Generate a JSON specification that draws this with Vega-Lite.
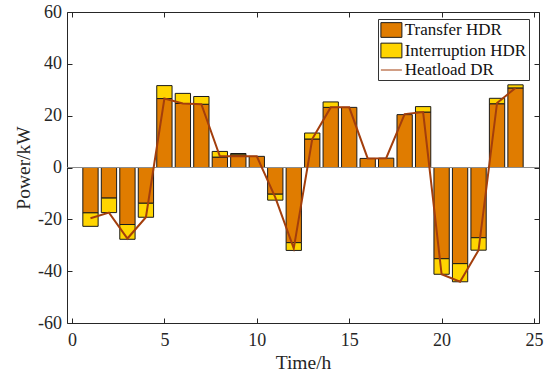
{
  "$schema": "https://vega.github.io/schema/vega-lite/v6.json",
  "autosize": "none",
  "width": 472,
  "height": 311,
  "padding": {"left": 67, "top": 12, "right": 15, "bottom": 51},
  "background": "white",
  "data": {"values": [
    {"hour": 1, "type": "Transfer HDR", "value": -17.5}, {"hour": 1, "type": "Interruption HDR", "value": -5.2}, {"hour": 1, "type": "Heatload DR", "value": -19.6},
    {"hour": 2, "type": "Transfer HDR", "value": -11.8}, {"hour": 2, "type": "Interruption HDR", "value": -5.6}, {"hour": 2, "type": "Heatload DR", "value": -17.4},
    {"hour": 3, "type": "Transfer HDR", "value": -22.0}, {"hour": 3, "type": "Interruption HDR", "value": -5.7}, {"hour": 3, "type": "Heatload DR", "value": -27.4},
    {"hour": 4, "type": "Transfer HDR", "value": -13.8}, {"hour": 4, "type": "Interruption HDR", "value": -5.4}, {"hour": 4, "type": "Heatload DR", "value": -19.2},
    {"hour": 5, "type": "Transfer HDR", "value": 26.6}, {"hour": 5, "type": "Interruption HDR", "value": 5.0}, {"hour": 5, "type": "Heatload DR", "value": 26.6},
    {"hour": 6, "type": "Transfer HDR", "value": 24.7}, {"hour": 6, "type": "Interruption HDR", "value": 3.9}, {"hour": 6, "type": "Heatload DR", "value": 24.7},
    {"hour": 7, "type": "Transfer HDR", "value": 24.4}, {"hour": 7, "type": "Interruption HDR", "value": 3.0}, {"hour": 7, "type": "Heatload DR", "value": 24.4},
    {"hour": 8, "type": "Transfer HDR", "value": 4.0}, {"hour": 8, "type": "Interruption HDR", "value": 2.2}, {"hour": 8, "type": "Heatload DR", "value": 4.3},
    {"hour": 9, "type": "Transfer HDR", "value": 4.9}, {"hour": 9, "type": "Interruption HDR", "value": 0.5}, {"hour": 9, "type": "Heatload DR", "value": 4.3},
    {"hour": 10, "type": "Transfer HDR", "value": 4.3}, {"hour": 10, "type": "Heatload DR", "value": 4.3},
    {"hour": 11, "type": "Transfer HDR", "value": -10.3}, {"hour": 11, "type": "Interruption HDR", "value": -2.3}, {"hour": 11, "type": "Heatload DR", "value": -11.5},
    {"hour": 12, "type": "Transfer HDR", "value": -29.0}, {"hour": 12, "type": "Interruption HDR", "value": -3.0}, {"hour": 12, "type": "Heatload DR", "value": -31.2},
    {"hour": 13, "type": "Transfer HDR", "value": 11.0}, {"hour": 13, "type": "Interruption HDR", "value": 2.3}, {"hour": 13, "type": "Heatload DR", "value": 11.0},
    {"hour": 14, "type": "Transfer HDR", "value": 23.2}, {"hour": 14, "type": "Interruption HDR", "value": 2.1}, {"hour": 14, "type": "Heatload DR", "value": 23.2},
    {"hour": 15, "type": "Transfer HDR", "value": 23.2}, {"hour": 15, "type": "Heatload DR", "value": 23.2},
    {"hour": 16, "type": "Transfer HDR", "value": 3.5}, {"hour": 16, "type": "Heatload DR", "value": 3.5},
    {"hour": 17, "type": "Transfer HDR", "value": 3.6}, {"hour": 17, "type": "Heatload DR", "value": 3.6},
    {"hour": 18, "type": "Transfer HDR", "value": 20.4}, {"hour": 18, "type": "Heatload DR", "value": 20.6},
    {"hour": 19, "type": "Transfer HDR", "value": 21.4}, {"hour": 19, "type": "Interruption HDR", "value": 2.1}, {"hour": 19, "type": "Heatload DR", "value": 21.4},
    {"hour": 20, "type": "Transfer HDR", "value": -35.2}, {"hour": 20, "type": "Interruption HDR", "value": -6.0}, {"hour": 20, "type": "Heatload DR", "value": -41.2},
    {"hour": 21, "type": "Transfer HDR", "value": -37.1}, {"hour": 21, "type": "Interruption HDR", "value": -7.0}, {"hour": 21, "type": "Heatload DR", "value": -44.1},
    {"hour": 22, "type": "Transfer HDR", "value": -27.1}, {"hour": 22, "type": "Interruption HDR", "value": -4.8}, {"hour": 22, "type": "Heatload DR", "value": -31.9},
    {"hour": 23, "type": "Transfer HDR", "value": 24.6}, {"hour": 23, "type": "Interruption HDR", "value": 2.1}, {"hour": 23, "type": "Heatload DR", "value": 24.9},
    {"hour": 24, "type": "Transfer HDR", "value": 30.7}, {"hour": 24, "type": "Interruption HDR", "value": 1.2}, {"hour": 24, "type": "Heatload DR", "value": 30.7}
  ]},
  "resolve": {"axis": {"x": "independent", "y": "independent"}},
  "layer": [
    {
      "transform": [{"filter": "datum.type !== 'Heatload DR'"}],
      "mark": {"type": "bar", "width": 15.3, "stroke": "#1a1a1a", "strokeWidth": 1},
      "encoding": {
        "x": {"field": "hour", "type": "quantitative", "scale": {"domain": [0, 25], "nice": false},
              "axis": {"orient": "bottom", "title": "Time/h", "values": [0, 5, 10, 15, 20, 25], "labelPadding": 13, "titlePadding": 4, "labelFlush": false}},
        "y": {"field": "value", "type": "quantitative", "stack": "zero", "scale": {"domain": [-60, 60], "nice": false},
              "axis": {"orient": "left", "title": "Power/kW", "values": [-60, -40, -20, 0, 20, 40, 60], "labelPadding": 10.5, "titlePadding": 4, "labelFlush": false}},
        "fill": {"field": "type", "type": "nominal",
                 "scale": {"domain": ["Transfer HDR", "Interruption HDR", "Heatload DR"], "range": ["#E07C00", "#FFD500", "transparent"]},
                 "legend": {"orient": "none", "legendX": 311, "legendY": 7, "title": null,
                            "strokeColor": "#333333", "fillColor": "white", "padding": 2,
                            "labelFont": "Liberation Serif", "labelFontSize": 17, "labelColor": "#111111",
                            "symbolOffset": 2.4, "labelOffset": 4.3, "rowPadding": 0.5, "symbolSize": 289, "symbolOpacity": 1}},
        "order": {"field": "type", "sort": "descending"}
      }
    },
    {
      "data": {"values": [{}]},
      "mark": {"type": "rule", "color": "#8c8c8c", "strokeWidth": 1},
      "encoding": {"y": {"datum": 0, "type": "quantitative", "axis": null}}
    },
    {
      "transform": [{"filter": "datum.type === 'Heatload DR'"}],
      "mark": {"type": "line", "strokeWidth": 2, "color": "#A33E0C"},
      "encoding": {
        "x": {"field": "hour", "type": "quantitative",
              "axis": {"orient": "top", "title": null, "labels": false, "values": [0, 5, 10, 15, 20, 25]}},
        "y": {"field": "value", "type": "quantitative",
              "axis": {"orient": "right", "title": null, "labels": false, "values": [-60, -40, -20, 0, 20, 40, 60]}}
      }
    },
    {
      "mark": {"type": "point", "opacity": 0, "filled": true},
      "encoding": {
        "x": {"field": "hour", "type": "quantitative", "axis": null},
        "y": {"field": "value", "type": "quantitative", "axis": null, "stack": null},
        "fill": {"field": "type", "type": "nominal",
                 "legend": {"orient": "none", "legendX": 311, "legendY": 7, "title": null,
                            "strokeColor": "#333333", "fillColor": "white", "padding": 2,
                            "labelFont": "Liberation Serif", "labelFontSize": 17, "labelColor": "#111111",
                            "symbolOffset": 2.4, "labelOffset": 4.3, "rowPadding": 0.5, "symbolSize": 289, "symbolOpacity": 1}},
        "stroke": {"field": "type", "type": "nominal",
                   "scale": {"domain": ["Transfer HDR", "Interruption HDR", "Heatload DR"], "range": ["#1a1a1a", "#1a1a1a", "#A33E0C"]},
                   "legend": {"orient": "none", "legendX": 311, "legendY": 7, "title": null}},
        "shape": {"field": "type", "type": "nominal",
                  "scale": {"domain": ["Transfer HDR", "Interruption HDR", "Heatload DR"], "range": ["M-1.235,-0.865H1.235V0.865H-1.235Z", "M-1.235,-0.865H1.235V0.865H-1.235Z", "M-1.235,0H1.235"]},
                  "legend": {"orient": "none", "legendX": 311, "legendY": 7, "title": null}},
        "strokeWidth": {"field": "type", "type": "nominal",
                  "scale": {"domain": ["Transfer HDR", "Interruption HDR", "Heatload DR"], "range": [1, 1, 2]},
                  "legend": {"orient": "none", "legendX": 311, "legendY": 7, "title": null}}
      }
    }
  ],
  "config": {
    "font": "Liberation Serif",
    "view": {"stroke": null},
    "axis": {
      "grid": false, "tickSize": -5, "domainColor": "#262626", "tickColor": "#262626",
      "labelExpr": "datum.value + ''",
      "labelFont": "Liberation Serif", "labelFontSize": 18, "labelColor": "#262626",
      "titleFont": "Liberation Serif", "titleFontSize": 19.5, "titleFontWeight": "normal", "titleColor": "#262626"
    }
  }
}
